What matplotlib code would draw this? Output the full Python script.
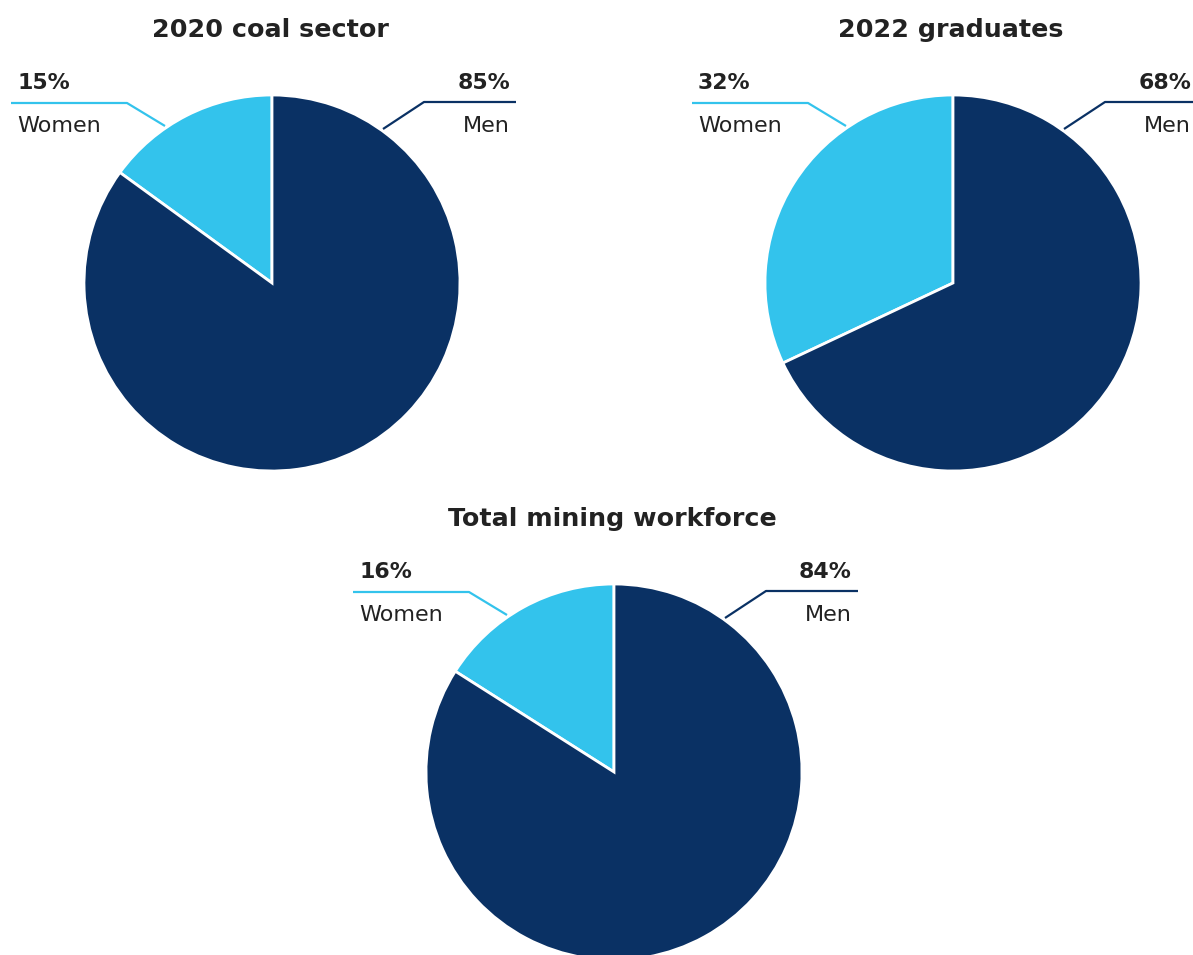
import matplotlib.pyplot as plt

# chart data
titles = ['2020 coal sector', '2022 graduates', 'Total mining workforce']
labels = ['Women', 'Men']
women = [15, 32, 16]
men = [85, 68, 84]

NAVY = '#0A3164'
SKY = '#33C3EC'
TEXT = '#222222'

plt.rcParams['font.family'] = ['DejaVu Sans']

fig = plt.figure(figsize=(11.93, 9.55), dpi=100)
ax = fig.add_axes([0, 0, 1, 1])

centers = [(272, 672), (953, 672), (614, 183)]
R = 188

for title, w, m, (cx, cy) in zip(titles, women, men, centers):
    ax.pie([w, m], colors=[SKY, NAVY], startangle=90, counterclock=True,
           center=(cx, cy), radius=R, frame=True,
           wedgeprops=dict(edgecolor='white', linewidth=2))
    ax.text(cx - 2, cy + 253, title, ha='center', va='center',
            fontsize=18.3, fontweight='bold', color=TEXT)

    # women leader + labels
    ax.plot([cx - 261, cx - 145, cx - 107], [cy + 180, cy + 180, cy + 157],
            color=SKY, lw=1.6, solid_capstyle='butt')
    ax.text(cx - 255, cy + 200, f'{w}%', ha='left', va='center',
            fontsize=15.8, fontweight='bold', color=TEXT)
    ax.text(cx - 255, cy + 157, labels[0], ha='left', va='center',
            fontsize=16, color=TEXT)

    # men leader + labels
    ax.plot([cx + 111, cx + 152, cx + 244], [cy + 154, cy + 181, cy + 181],
            color=NAVY, lw=1.6, solid_capstyle='butt')
    ax.text(cx + 238, cy + 200, f'{m}%', ha='right', va='center',
            fontsize=15.8, fontweight='bold', color=TEXT)
    ax.text(cx + 238, cy + 157, labels[1], ha='right', va='center',
            fontsize=16, color=TEXT)

ax.set_xlim(0, 1193)
ax.set_ylim(0, 955)
ax.set_aspect('equal')
ax.axis('off')

fig.savefig('out.png', dpi=100)
